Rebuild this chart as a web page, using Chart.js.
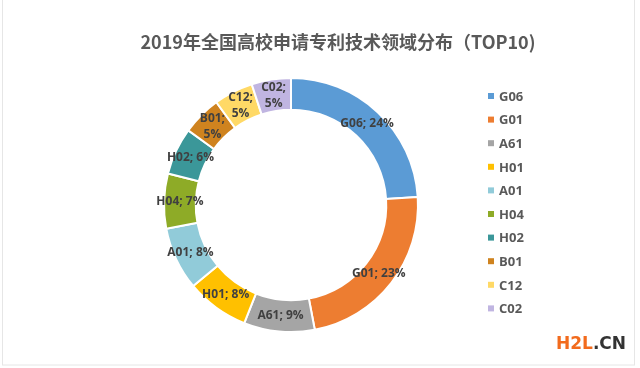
<!DOCTYPE html>
<html>
<head>
<meta charset="utf-8">
<script src="https://cdn.jsdelivr.net/npm/chart.js@4"></script>
<style>
  html, body { margin: 0; padding: 0; background: #fff; }
  #wrap { position: relative; width: 640px; height: 368px; }
  #mark { position: absolute; left: 556px; top: 333px; font: bold 17px "DejaVu Sans", sans-serif; letter-spacing: 0px; }
</style>
</head>
<body>
<div id="wrap">
  <canvas id="pieChart" width="640" height="368"></canvas>
  <div id="mark"><span style="color:#f26b1d">H2L</span><span style="color:#333">.CN</span></div>
</div>
<script>
var chartTitle = '2019年全国高校申请专利技术领域分布（TOP10)';
var categorias = ['G06', 'G01', 'A61', 'H01', 'A01', 'H04', 'H02', 'B01', 'C12', 'C02'];
var valores = [24, 23, 9, 8, 8, 7, 6, 5, 5, 5];
var cores = ['#5b9bd5', '#ed7d31', '#a5a5a5', '#ffc000', '#91cbd9', '#8eab27', '#3b9799', '#cf831f', '#ffd966', '#c0b5e1'];

// titulo, legenda, rotulos e moldura
var extras = {
    id: 'extras',
    afterDraw: function(chart) {
        var ctx = chart.ctx;
        ctx.save();

        // moldura clara
        ctx.strokeStyle = '#e6e6e6';
        ctx.lineWidth = 1;
        ctx.strokeRect(2.5, -1, 632, 366);

        ctx.fillStyle = '#595959';
        ctx.font = 'bold 18px "Noto Sans CJK SC", sans-serif';
        ctx.textAlign = 'center';
        ctx.textBaseline = 'middle';
        ctx.fillText(chartTitle, 338, 42);

        // rotulos dentro do anel
        var meta = chart.getDatasetMeta(0);
        ctx.fillStyle = '#404040';
        ctx.font = 'bold 12px "Open Sans", sans-serif';
        meta.data.forEach(function(arc, i) {
            var mid = (arc.startAngle + arc.endAngle) / 2;
            var r = (arc.innerRadius + arc.outerRadius) / 2;
            var x = arc.x + Math.cos(mid) * r;
            var y = arc.y + Math.sin(mid) * r;
            if (valores[i] <= 5) {
                ctx.fillText(categorias[i] + ';', x, y - 8);
                ctx.fillText(valores[i] + '%', x, y + 8);
            } else {
                ctx.fillText(categorias[i] + '; ' + valores[i] + '%', x, y);
            }
        });

        // legenda
        ctx.textAlign = 'left';
        ctx.font = 'bold 13px "Open Sans", sans-serif';
        categorias.forEach(function(cat, i) {
            var y = 96 + i * 23.6;
            ctx.fillStyle = cores[i];
            ctx.fillRect(488, y - 3, 6, 6);
            ctx.fillStyle = '#595959';
            ctx.fillText(cat, 499, y + 1);
        });
        ctx.restore();
    }
};

var pieChartCanvas = document.getElementById('pieChart').getContext('2d');
var pieChart = new Chart(pieChartCanvas, {
    type: 'doughnut',
    data: {
        labels: categorias,
        datasets: [{
            data: valores,
            backgroundColor: cores,
            borderColor: '#ffffff',
            borderWidth: 2
        }]
    },
    options: {
        responsive: false,
        animation: false,
        cutout: '75%',
        layout: { padding: { left: 163, right: 221, top: 76, bottom: 34 } },
        plugins: {
            legend: { display: false },
            tooltip: { enabled: false },
            title: { display: false }
        }
    },
    plugins: [extras]
});
</script>
</body>
</html>
